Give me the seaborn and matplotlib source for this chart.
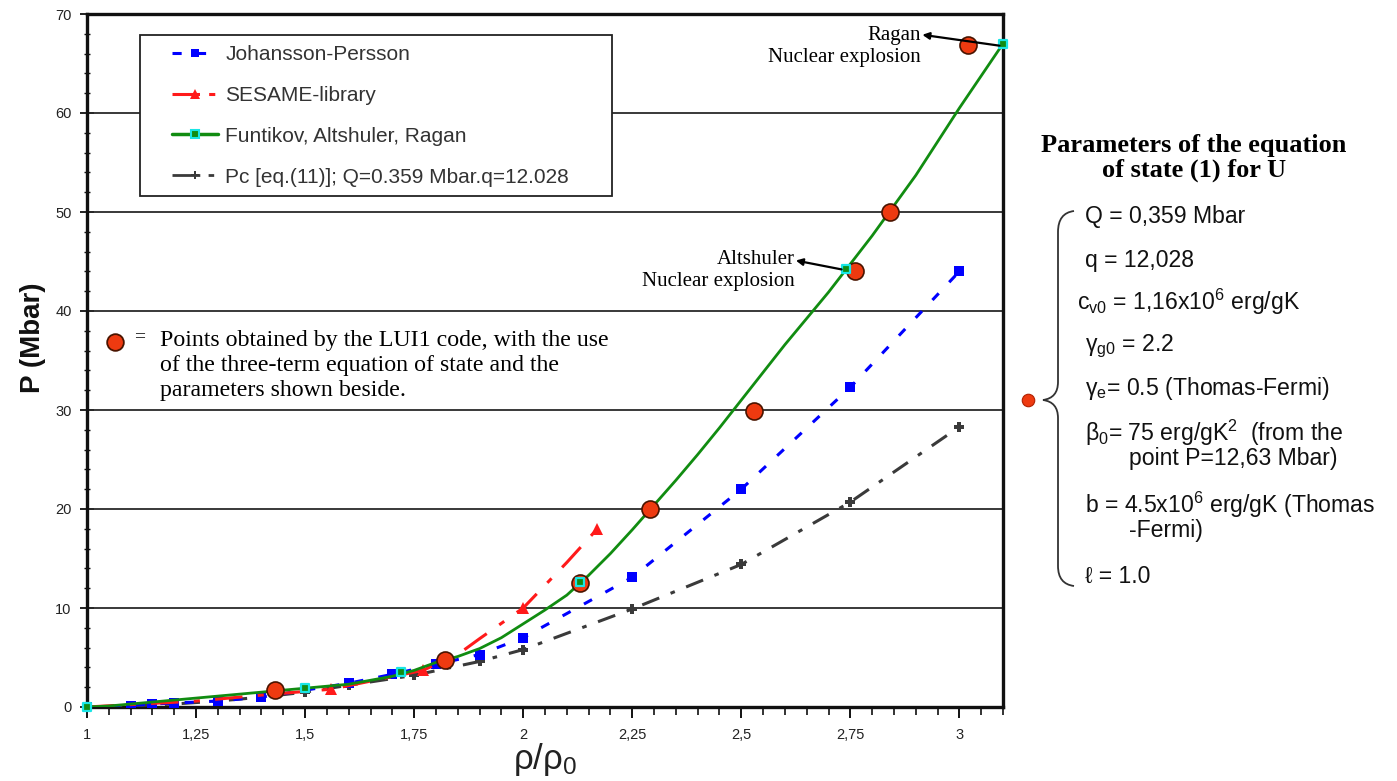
import numpy as np
import pandas as pd
import matplotlib
matplotlib.use("Agg")
import matplotlib.pyplot as plt
import seaborn as sns
from matplotlib.lines import Line2D
from matplotlib.path import Path
from matplotlib.patches import PathPatch, Rectangle
from matplotlib.ticker import MultipleLocator, FuncFormatter

# ---- data: pressure P (Mbar) versus compression rho/rho0 for uranium ----
jp_x = [1.0, 1.1, 1.15, 1.2, 1.3, 1.4, 1.6, 1.7, 1.8, 1.9, 2.0, 2.25, 2.5, 2.75, 3.0]
jp_y = [0.0, 0.15, 0.3, 0.4, 0.6, 1.0, 2.4, 3.3, 4.3, 5.3, 7.0, 13.1, 22.0, 32.3, 44.0]

ses_x = [1.0, 1.25, 1.4, 1.56, 1.77, 1.85, 1.9, 2.0, 2.1, 2.17]
ses_y = [0.0, 0.6, 1.2, 1.8, 3.7, 5.3, 6.9, 10.0, 14.6, 18.0]

far_x = [1.0, 1.05, 1.1, 1.2, 1.3, 1.4, 1.5, 1.6, 1.7, 1.75, 1.8, 1.85, 1.9,
         1.95, 2.0, 2.05, 2.1, 2.15, 2.2, 2.25, 2.3, 2.35, 2.4, 2.45, 2.5,
         2.6, 2.7, 2.8, 2.9, 3.0, 3.1]
far_y = [0.0, 0.1, 0.3, 0.7, 1.1, 1.5, 1.9, 2.3, 3.1, 3.7, 4.5, 5.1, 5.9,
         7.0, 8.4, 9.8, 11.3, 13.3, 15.5, 17.9, 20.4, 22.9, 25.5, 28.2, 31.0,
         36.6, 41.9, 47.6, 53.7, 60.5, 67.0]
exp_x = [1.0, 1.5, 1.72, 2.13, 2.74, 3.1]
exp_y = [0.0, 1.9, 3.5, 12.6, 44.2, 67.0]

pc_x = [1.0, 1.1, 1.2, 1.3, 1.4, 1.5, 1.6, 1.75, 1.9, 2.0, 2.25, 2.5, 2.75, 3.0]
pc_y = [0.0, 0.1, 0.3, 0.6, 1.0, 1.5, 2.2, 3.2, 4.6, 5.8, 9.9, 14.4, 20.7, 28.3]

lui_x = [1.43, 1.82, 2.13, 2.29, 2.53, 2.76, 2.84, 3.02]
lui_y = [1.7, 4.7, 12.5, 20.0, 29.9, 44.0, 50.0, 66.9]

legend_labels = ["Johansson-Persson", "SESAME-library",
                 "Funtikov, Altshuler, Ragan",
                 "Pc [eq.(11)]; Q=0.359 Mbar.q=12.028"]

x_ticks = [1.0, 1.25, 1.5, 1.75, 2.0, 2.25, 2.5, 2.75, 3.0]
y_ticks = [0, 10, 20, 30, 40, 50, 60, 70]

# ---- styling ----
sns.set_theme(style="white")
plt.rcParams["font.family"] = ["Liberation Sans", "DejaVu Sans"]
plt.rcParams["mathtext.default"] = "regular"
SERIF = ["Liberation Serif", "DejaVu Serif"]

C_BLUE, C_RED, C_GREEN, C_GRAY = "#0000ff", "#ff1a1a", "#118c11", "#3a3a3a"
C_CYAN, C_DOT, C_DOT_EDGE = "#19e6e6", "#ee3a10", "#4a1400"

W, H = 1397, 781
fig = plt.figure(figsize=(W / 100, H / 100), dpi=100)
fig.patch.set_facecolor("white")


def fx(px):
    return px / W


def fy(py):
    return 1 - py / H


AX_L, AX_R, AX_T, AX_B = 87, 1003, 14, 707
ax = fig.add_axes([fx(AX_L), fy(AX_B), fx(AX_R) - fx(AX_L), fy(AX_T) - fy(AX_B)])
ax.set_facecolor("white")


def ax_frac(px, py):
    return (px - AX_L) / (AX_R - AX_L), (AX_B - py) / (AX_B - AX_T)


df_jp = pd.DataFrame({"x": jp_x, "y": jp_y})
df_ses = pd.DataFrame({"x": ses_x, "y": ses_y})
df_far = pd.DataFrame({"x": far_x, "y": far_y})
df_exp = pd.DataFrame({"x": exp_x, "y": exp_y})
df_pc = pd.DataFrame({"x": pc_x, "y": pc_y})
df_lui = pd.DataFrame({"x": lui_x, "y": lui_y})

# horizontal grid lines
for v in y_ticks[1:-1]:
    ax.axhline(v, color="#2a2a2a", lw=1.3, zorder=1)

# Pc, eq.(11)
l_pc = sns.lineplot(data=df_pc, x="x", y="y", ax=ax, color=C_GRAY, lw=2.2,
                    marker="P", markersize=7, markeredgewidth=0,
                    sort=False, zorder=3).lines[-1]
l_pc.set_dashes([6, 4, 1.5, 4])
# Johansson-Persson
l_jp = sns.lineplot(data=df_jp, x="x", y="y", ax=ax, color=C_BLUE, lw=2.2,
                    marker="s", markersize=6.5, markeredgewidth=0,
                    sort=False, zorder=4).lines[-1]
l_jp.set_dashes([3, 5])
# SESAME library
l_ses = sns.lineplot(data=df_ses, x="x", y="y", ax=ax, color=C_RED, lw=2.2,
                     marker="^", markersize=8, markeredgewidth=0,
                     markevery=[3, 4, 7, 9], sort=False, zorder=4).lines[-1]
l_ses.set_dashes([9, 5, 2, 5])
# Funtikov, Altshuler, Ragan
sns.lineplot(data=df_far, x="x", y="y", ax=ax, color=C_GREEN, lw=2.0,
             sort=False, zorder=5)
sns.scatterplot(data=df_exp, x="x", y="y", ax=ax, marker="s", s=40,
                color=C_GREEN, edgecolor=C_CYAN, linewidth=1.6, zorder=7,
                clip_on=False)
# LUI1 code points
sns.scatterplot(data=df_lui, x="x", y="y", ax=ax, s=150, color=C_DOT,
                edgecolor=C_DOT_EDGE, linewidth=1.2, zorder=6, clip_on=False)

# ---- axes ----
ax.set_xlim(1.0, 3.1)
ax.set_ylim(0, 70)
ax.set_xticks(x_ticks)
ax.set_yticks(y_ticks)
ax.xaxis.set_minor_locator(MultipleLocator(0.05))
ax.yaxis.set_minor_locator(MultipleLocator(2))
ax.xaxis.set_major_formatter(FuncFormatter(lambda v, p: f"{v:g}".replace(".", ",")))
ax.tick_params(axis="both", which="both", bottom=True, left=True, top=False,
               right=False)
ax.tick_params(axis="x", which="major", direction="out", length=8, width=1.4,
               labelsize=10.5, pad=7, colors="#111111", labelcolor="#222222")
ax.tick_params(axis="x", which="minor", direction="out", length=6, width=1.2,
               colors="#111111")
ax.tick_params(axis="y", which="major", direction="inout", length=10, width=1.3,
               labelsize=10.5, pad=6, colors="#111111", labelcolor="#222222")
ax.tick_params(axis="y", which="minor", direction="inout", length=5, width=1.0,
               colors="#111111")
for side in ["left", "right", "top", "bottom"]:
    ax.spines[side].set_visible(True)
    ax.spines[side].set_color("#111111")
    ax.spines[side].set_linewidth(2.4)
ax.set_xlabel("")
ax.set_ylabel("")
fig.text(fx(33), fy(338), "P (Mbar)", rotation=90, ha="center", va="center",
         fontsize=20, fontweight="bold", color="#111111")
fig.text(fx(545), fy(760), "ρ/ρ$_0$", ha="center", va="center", fontsize=25,
         color="#222222")

# ---- legend ----
handles = [
    Line2D([], [], color=C_BLUE, lw=2.2, dashes=[3, 5], marker="s",
           markersize=6, markeredgewidth=0),
    Line2D([], [], color=C_RED, lw=2.2, dashes=[9, 3, 2, 3], marker="^",
           markersize=7, markeredgewidth=0),
    Line2D([], [], color=C_GREEN, lw=2.5, marker="s", markersize=6,
           markerfacecolor=C_GREEN, markeredgecolor=C_CYAN, markeredgewidth=1.5),
    Line2D([], [], color=C_GRAY, lw=2.0, dashes=[10, 3, 2, 3], marker="P",
           markersize=6, markeredgewidth=0),
]
x0, y0 = ax_frac(140, 196)
x1, y1 = ax_frac(612, 35)
ax.add_patch(Rectangle((x0, y0), x1 - x0, y1 - y0, transform=ax.transAxes,
                       facecolor="white", edgecolor="#222222", lw=1.3,
                       zorder=9))
lx, ly = ax_frac(172, 45)
leg = ax.legend(handles, legend_labels, loc="upper left",
                bbox_to_anchor=(lx, ly), frameon=False, fontsize=15,
                handlelength=2.2, handletextpad=0.35, labelspacing=1.05,
                borderpad=0, borderaxespad=0)
leg.set_zorder(10)
for t in leg.get_texts():
    t.set_color("#333333")

# ---- annotations for the nuclear explosion points ----
ax.annotate("", xy=(2.915, 67.9), xytext=(3.092, 66.8),
            arrowprops=dict(arrowstyle="-|>", color="black", lw=1.6,
                            mutation_scale=10, shrinkA=0, shrinkB=0), zorder=8)
ax.text(2.912, 66.7, "Ragan\nNuclear explosion", ha="right", va="center",
        multialignment="right", fontsize=15, family=SERIF, color="black",
        linespacing=1.2)
ax.annotate("", xy=(2.625, 45.1), xytext=(2.73, 44.2),
            arrowprops=dict(arrowstyle="-|>", color="black", lw=1.6,
                            mutation_scale=10, shrinkA=0, shrinkB=0), zorder=8)
ax.text(2.622, 44.1, "Altshuler\nNuclear explosion", ha="right", va="center",
        multialignment="right", fontsize=15, family=SERIF, color="black",
        linespacing=1.2)

# ---- LUI1 key text ----
fig.add_artist(Line2D([fx(115)], [fy(342)], marker="o", markersize=12,
                      markerfacecolor=C_DOT, markeredgecolor=C_DOT_EDGE,
                      markeredgewidth=1.3, transform=fig.transFigure))
fig.text(fx(140), fy(337), "=", ha="center", va="center", fontsize=14,
         family=SERIF, color="black")
fig.text(fx(160), fy(330),
         "Points obtained by the LUI1 code, with the use\n"
         "of the three-term equation of state and the\n"
         "parameters shown beside.",
         ha="left", va="top", fontsize=17.2, family=SERIF, color="black",
         linespacing=1.25)

# ---- parameter panel ----
fig.text(fx(1194), fy(158), "Parameters of the equation\nof state (1) for U",
         ha="center", va="center", fontsize=19, fontweight="bold",
         family=SERIF, color="black", linespacing=1.05)

params = [
    (1085, 216, "Q = 0,359 Mbar"),
    (1085, 260, "q = 12,028"),
    (1077, 302, "c$_{v0}$ = 1,16x10$^6$ erg/gK"),
    (1085, 346, "γ$_{g0}$ = 2.2"),
    (1085, 389, "γ$_{e}$= 0.5 (Thomas-Fermi)"),
    (1085, 433, "β$_0$= 75 erg/gK$^2$  (from the"),
    (1129, 459, "point P=12,63 Mbar)"),
    (1085, 505, "b = 4.5x10$^6$ erg/gK (Thomas"),
    (1129, 531, "-Fermi)"),
    (1085, 576, "ℓ = 1.0"),
]
for px, py, s in params:
    fig.text(fx(px), fy(py), s, ha="left", va="center", fontsize=16.6,
             color="#111111", family=["Liberation Sans", "DejaVu Sans"])

# curly brace grouping the parameters
brace_px = [(1074, 211), (1058, 213), (1058, 232), (1058, 382), (1058, 398),
            (1043, 400), (1058, 402), (1058, 418), (1058, 566), (1058, 584),
            (1074, 586)]
codes = [Path.MOVETO, Path.CURVE3, Path.CURVE3, Path.LINETO, Path.CURVE3,
         Path.CURVE3, Path.CURVE3, Path.CURVE3, Path.LINETO, Path.CURVE3,
         Path.CURVE3]
brace = Path([(fx(a), fy(b)) for a, b in brace_px], codes)
fig.add_artist(PathPatch(brace, facecolor="none", edgecolor="#333333", lw=1.3,
                         transform=fig.transFigure))
fig.add_artist(Line2D([fx(1028)], [fy(400)], marker="o", markersize=9,
                      markerfacecolor=C_DOT, markeredgecolor="#b02000",
                      markeredgewidth=0.8, transform=fig.transFigure))

fig.savefig("out.png", dpi=100, facecolor="white")
